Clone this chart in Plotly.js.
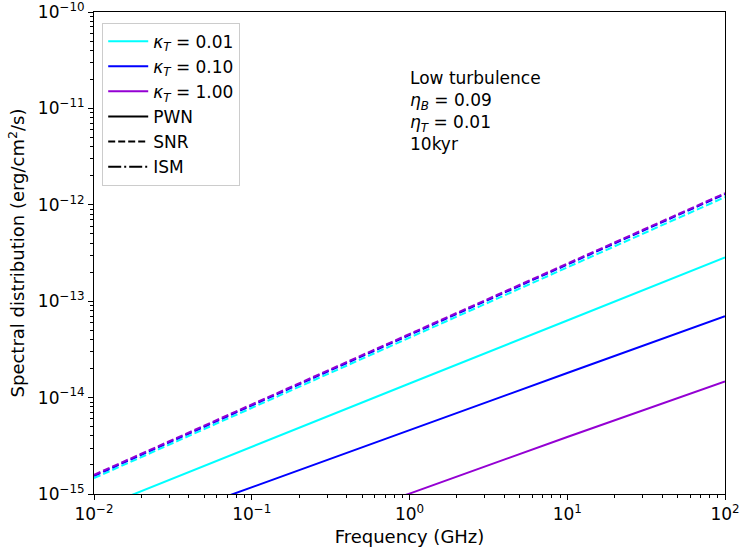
<!DOCTYPE html>
<html>
<head>
<meta charset="utf-8">
<script src="https://cdn.plot.ly/plotly-3.0.1.min.js"></script>
<style>
  html, body { margin: 0; padding: 0; background: #fff; }
  #plot { width: 748px; height: 552px; }
</style>
</head>
<body>
<div id="plot"></div>
<script>
// frequency in GHz
const freq = [0.01, 0.1, 1, 10, 100];

// PWN (solid) spectra, erg/cm^2/s
const pwn001 = [6.8e-16, 3.1e-15, 1.4e-14, 6.3e-14, 2.85e-13];
const pwn010 = [3.0e-16, 1.18e-15, 4.6e-15, 1.8e-14, 7.0e-14];
const pwn100 = [7.0e-17, 2.7e-16, 1.01e-15, 3.9e-15, 1.47e-14];

// SNR (dashed) spectra
const snr001 = [1.46e-15, 7.8e-15, 4.19e-14, 2.24e-13, 1.20e-12];
const snr010 = [1.54e-15, 8.25e-15, 4.45e-14, 2.40e-13, 1.29e-12];
const snr100 = [1.58e-15, 8.5e-15, 4.6e-14, 2.46e-13, 1.32e-12];

const kappaLabels = ['0.01', '0.10', '1.00'];
const kappaColors = ['#00FFFF', '#0000FF', '#9400D3'];
const styleLabels = ['PWN', 'SNR', 'ISM'];
const styleDashes = ['solid', '7px,3px', '13px,3px,2px,3px'];

const pwnSeries = [pwn001, pwn010, pwn100];
const snrSeries = [snr001, snr010, snr100];

const data = [];

// legend entries only
kappaLabels.forEach((k, i) => {
    data.push({
        x: [null], y: [null], type: 'scatter', mode: 'lines',
        name: '<i>κ</i><sub><i>T</i></sub> = ' + k,
        line: {color: kappaColors[i], width: 2}
    });
});
styleLabels.forEach((s, i) => {
    data.push({
        x: [null], y: [null], type: 'scatter', mode: 'lines',
        name: s,
        line: {color: 'black', width: 2, dash: styleDashes[i]}
    });
});

// actual curves
kappaColors.forEach((c, i) => {
    data.push({
        x: freq, y: snrSeries[i], type: 'scatter', mode: 'lines',
        showlegend: false, hoverinfo: 'skip',
        line: {color: c, width: 2, dash: styleDashes[1]}
    });
});
kappaColors.forEach((c, i) => {
    data.push({
        x: freq, y: pwnSeries[i], type: 'scatter', mode: 'lines',
        showlegend: false, hoverinfo: 'skip',
        line: {color: c, width: 2, dash: styleDashes[0]}
    });
});

const xTickVals = [0.01, 0.1, 1, 10, 100];
const xTickText = ['10<sup>−2</sup>', '10<sup>−1</sup>', '10<sup>0</sup>', '10<sup>1</sup>', '10<sup>2</sup>'];
const yTickVals = [1e-15, 1e-14, 1e-13, 1e-12, 1e-11, 1e-10];
const yTickText = ['10<sup>−15</sup>', '10<sup>−14</sup>', '10<sup>−13</sup>', '10<sup>−12</sup>', '10<sup>−11</sup>', '10<sup>−10</sup>'];

const font = {family: 'DejaVu Sans', size: 17, color: 'black'};

const axisBase = {
    type: 'log',
    showgrid: false,
    zeroline: false,
    showline: true,
    linecolor: 'black',
    linewidth: 1,
    mirror: true,
    ticks: 'outside',
    ticklen: 5,
    tickwidth: 1,
    tickcolor: 'black',
    ticklabeloverflow: 'allow',
    tickfont: {family: 'DejaVu Sans', size: 17, color: 'black'},
    minor: {ticks: 'outside', ticklen: 3, tickwidth: 0.8, tickcolor: 'black', dtick: 'D1', showgrid: false}
};

const layout = {
    width: 748,
    height: 552,
    margin: {l: 94, r: 23, t: 12, b: 58},
    paper_bgcolor: 'white',
    plot_bgcolor: 'white',
    font: font,
    showlegend: true,
    xaxis: Object.assign({}, axisBase, {
        range: [-2, 2],
        tickvals: xTickVals,
        ticktext: xTickText,
        title: {text: 'Frequency (GHz)', font: {family: 'DejaVu Sans', size: 18}, standoff: 6}
    }),
    yaxis: Object.assign({}, axisBase, {
        range: [-15, -10],
        tickvals: yTickVals,
        ticktext: yTickText,
        title: {text: 'Spectral distribution (erg/cm<sup>2</sup>/s)', font: {family: 'DejaVu Sans', size: 18}, standoff: 8}
    }),
    legend: {
        x: 0.013, y: 0.978, xanchor: 'left', yanchor: 'top',
        bgcolor: 'rgba(255,255,255,0.8)',
        bordercolor: '#cccccc',
        borderwidth: 1,
        itemwidth: 40,
        font: {family: 'DejaVu Sans', size: 17, color: 'black'}
    },
    annotations: [{
        xref: 'paper', yref: 'paper',
        x: 0.498, y: 0.888, xanchor: 'left', yanchor: 'top',
        align: 'left', showarrow: false,
        text: 'Low turbulence<br><i>η</i><sub><i>B</i></sub> = 0.09<br><i>η</i><sub><i>T</i></sub> = 0.01<br>10kyr',
        font: {family: 'DejaVu Sans', size: 17, color: 'black'}
    }]
};

Plotly.newPlot('plot', data, layout, {displayModeBar: false, responsive: false});
</script>
</body>
</html>
